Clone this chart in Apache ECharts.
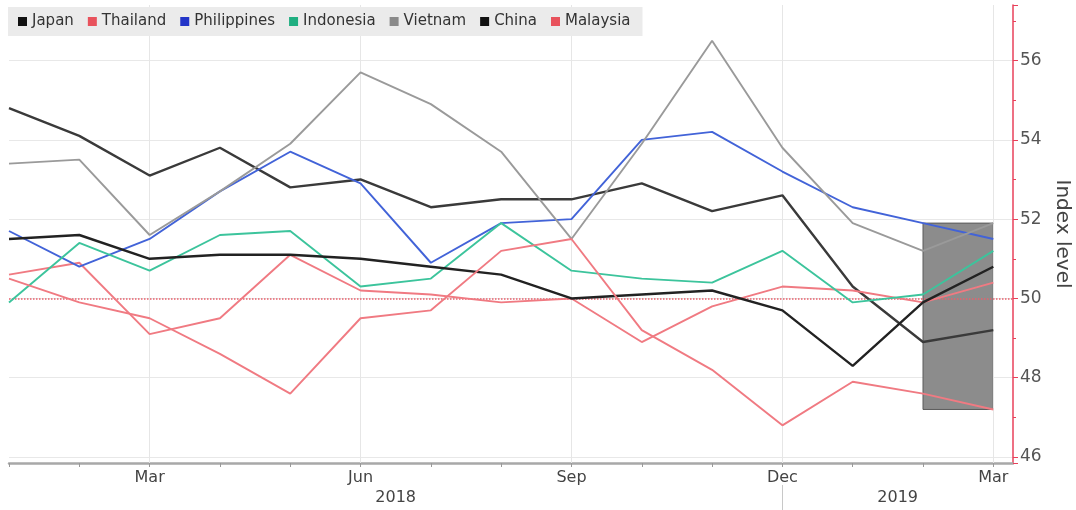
<!DOCTYPE html>
<html>
<head>
<meta charset="utf-8">
<script src="https://cdn.jsdelivr.net/npm/echarts@6/dist/echarts.min.js"></script>
<style>
  html, body { margin: 0; padding: 0; background: #fff; }
  #chart { width: 1076px; height: 510px; }
</style>
</head>
<body>
<div id="chart"></div>
<script>
// Manufacturing PMI, Jan 2018 – Mar 2019
const months = ['Jan','Feb','Mar','Apr','May','Jun','Jul','Aug','Sep','Oct','Nov','Dec','Jan','Feb','Mar'];
const years = ['2018', '2019'];
const yTicks = [46, 48, 50, 52, 54, 56];

const japan       = [54.8, 54.1, 53.1, 53.8, 52.8, 53.0, 52.3, 52.5, 52.5, 52.9, 52.2, 52.6, 50.3, 48.9, 49.2];
const thailand    = [50.6, 50.9, 49.1, 49.5, 51.1, 50.2, 50.1, 49.9, 50.0, 48.9, 49.8, 50.3, 50.2, 49.9, 50.4];
const philippines = [51.7, 50.8, 51.5, 52.7, 53.7, 52.9, 50.9, 51.9, 52.0, 54.0, 54.2, 53.2, 52.3, 51.9, 51.5];
const indonesia   = [49.9, 51.4, 50.7, 51.6, 51.7, 50.3, 50.5, 51.9, 50.7, 50.5, 50.4, 51.2, 49.9, 50.1, 51.2];
const vietnam     = [53.4, 53.5, 51.6, 52.7, 53.9, 55.7, 54.9, 53.7, 51.5, 53.9, 56.5, 53.8, 51.9, 51.2, 51.9];
const china       = [51.5, 51.6, 51.0, 51.1, 51.1, 51.0, 50.8, 50.6, 50.0, 50.1, 50.2, 49.7, 48.3, 49.9, 50.8];
const malaysia    = [50.5, 49.9, 49.5, 48.6, 47.6, 49.5, 49.7, 51.2, 51.5, 49.2, 48.2, 46.8, 47.9, 47.6, 47.2];

const FONT = "'DejaVu Sans', 'Noto Sans', sans-serif";
const X_MAX = 14.28;   // a little room past the last month before the value axis
const Y_MIN = 45.85;
const Y_MAX = 57.4;

const seriesDefs = [
  { name: 'Japan',       data: japan,       color: '#3a3a3a', icon: '#111111', width: 2.4 },
  { name: 'Thailand',    data: thailand,    color: '#f07a82', icon: '#e8525c', width: 1.9 },
  { name: 'Philippines', data: philippines, color: '#4263d8', icon: '#2335c8', width: 1.9 },
  { name: 'Indonesia',   data: indonesia,   color: '#3cc49c', icon: '#1fae80', width: 1.9 },
  { name: 'Vietnam',     data: vietnam,     color: '#9a9a9a', icon: '#8a8a8a', width: 1.9 },
  { name: 'China',       data: china,       color: '#222222', icon: '#111111', width: 2.4 },
  { name: 'Malaysia',    data: malaysia,    color: '#f07a82', icon: '#e8525c', width: 1.9 }
];

// Shaded range covering the last two months of all series
const n = months.length;
const tail = seriesDefs.flatMap(s => s.data.slice(n - 2));
const boxLow = Math.min(...tail);
const boxHigh = Math.max(...tail);

const quarterIdx = months.map((m, i) => i).filter(i => i % 3 === 2);
const monthIdx = months.map((m, i) => i);
const yearSplit = 11;
const yearLabelAt = [yearSplit / 2, (yearSplit + X_MAX) / 2];

const chart = echarts.init(document.getElementById('chart'));

const lineSeries = seriesDefs.map(s => ({
  name: s.name,
  type: 'line',
  data: s.data.map((v, i) => [i, v]),
  symbol: 'none',
  z: 3,
  lineStyle: { color: s.color, width: s.width },
  itemStyle: { color: s.color },
  emphasis: { disabled: true }
}));

chart.setOption({
  animation: false,
  backgroundColor: '#ffffff',
  grid: { left: 9, right: 63, top: 5, bottom: 47, outerBoundsMode: 'none', containLabel: false },
  legend: {
    left: 8, top: 7,
    z: 10,
    padding: [7, 12, 7, 10],
    backgroundColor: '#ebebeb',
    itemGap: 14,
    itemWidth: 9, itemHeight: 9,
    icon: 'rect',
    textStyle: { fontFamily: FONT, fontSize: 15, color: '#333' },
    data: seriesDefs.map(s => ({ name: s.name, itemStyle: { color: s.icon } }))
  },
  xAxis: [
    {
      type: 'value',
      min: 0, max: X_MAX, interval: 1,
      axisLine: { show: true, onZero: false, lineStyle: { color: '#a8a8a8', width: 2.5 } },
      axisTick: { show: true, customValues: monthIdx, length: 4, lineStyle: { color: '#999' } },
      axisLabel: {
        customValues: quarterIdx,
        formatter: v => months[Math.round(v)],
        fontFamily: FONT, fontSize: 16, color: '#444', margin: 7
      },
      splitLine: { show: false }
    },
    {
      type: 'value',
      position: 'bottom',
      offset: 22,
      min: 0, max: X_MAX, interval: 1,
      axisLine: { show: false, onZero: false },
      axisTick: { show: true, customValues: [yearSplit], length: 26, lineStyle: { color: '#c8c8c8', width: 1 } },
      axisLabel: {
        customValues: yearLabelAt,
        formatter: v => (v < yearSplit ? years[0] : years[1]),
        fontFamily: FONT, fontSize: 16, color: '#444', margin: 5
      },
      splitLine: { show: false }
    }
  ],
  yAxis: {
    type: 'value',
    position: 'right',
    min: Y_MIN, max: Y_MAX,
    splitNumber: 6,
    name: 'Index level',
    nameLocation: 'middle',
    nameRotate: -90,
    nameGap: 38,
    nameTextStyle: { fontFamily: FONT, fontSize: 20, color: '#444' },
    axisLine: { show: true, onZero: false, lineStyle: { color: '#e8405a', width: 1.5 } },
    axisTick: { show: true, length: 5, lineStyle: { color: '#e8405a' } },
    minorTick: { show: true, splitNumber: 2, length: 3, lineStyle: { color: '#e8405a' } },
    axisLabel: {
      showMinLabel: false, showMaxLabel: false,
      formatter: v => (yTicks.includes(v) ? String(v) : ''),
      fontFamily: FONT, fontSize: 17, color: '#555', margin: 7
    },
    splitLine: { show: true, showMinLine: false, showMaxLine: false, lineStyle: { color: '#e8e8e8', width: 1 } }
  },
  series: [
    {
      name: 'grid-helper',
      type: 'line',
      data: [],
      z: 1,
      silent: true,
      markLine: {
        z: 1,
        silent: true,
        symbol: 'none',
        label: { show: false },
        lineStyle: { color: '#e6e6e6', width: 1, type: 'solid' },
        data: quarterIdx.map(i => ({ xAxis: i }))
      },
      markArea: {
        z: 1,
        silent: true,
        itemStyle: { color: '#8c8c8c', borderColor: '#5a5a5a', borderWidth: 1 },
        data: [[{ xAxis: n - 2, yAxis: boxLow }, { xAxis: n - 1, yAxis: boxHigh }]]
      }
    },
    {
      name: 'threshold',
      type: 'line',
      data: [],
      z: 2,
      silent: true,
      markLine: {
        z: 2,
        silent: true,
        symbol: 'none',
        label: { show: false },
        lineStyle: { color: '#e8606c', width: 1.5, type: 'dotted' },
        data: [{ yAxis: 50 }]
      }
    },
    ...lineSeries
  ]
});
</script>
</body>
</html>
